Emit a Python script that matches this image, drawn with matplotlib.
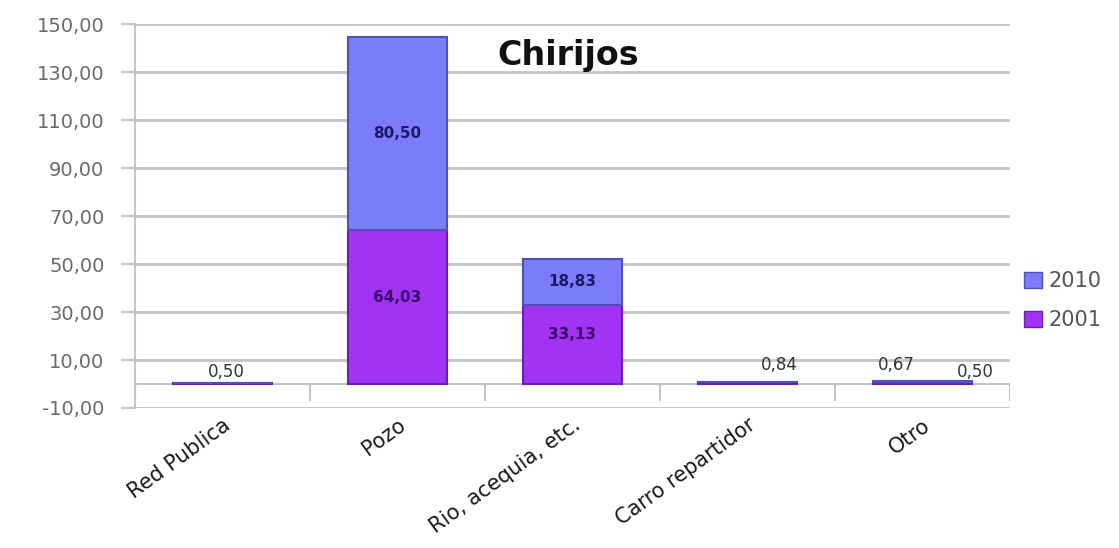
import numpy as np
import matplotlib.pyplot as plt
from matplotlib.patches import Patch

categories = ['Red Publica', 'Pozo', 'Rio, acequia, etc.', 'Carro repartidor', 'Otro']
v2001 = [0.50, 64.03, 33.13, 0.84, 0.67]
v2010 = [0.0, 80.50, 18.83, 0.0, 0.50]
yticks = [-10, 10, 30, 50, 70, 90, 110, 130, 150]

c2001 = '#A333F2'
c2010 = '#7B7CF7'
grid = '#C4C4C4'

fig = plt.figure(figsize=(11.19, 5.48), dpi=100)
ax = fig.add_axes([0.1206, 0.2555, 0.782, 0.7005])

x = np.arange(len(categories))
w = 0.57
ax.bar(x, v2001, w, color=c2001, edgecolor='#6A1FB0', linewidth=1.5, zorder=3)
ax.bar(x, v2010, w, bottom=v2001, color=c2010, edgecolor='#4F50B8', linewidth=1.5, zorder=3)

ax.set_xlim(-0.5, len(categories) - 0.5)
ax.set_ylim(-10, 150)
ax.set_yticks(yticks)
ax.set_yticklabels([f'{t:.2f}'.replace('.', ',') for t in yticks], color='#6A6A6A', fontsize=14)
ax.yaxis.grid(True, color=grid, linewidth=2, zorder=0)
ax.tick_params(axis='y', length=10, width=1.5, color=grid, pad=12)
ax.set_axisbelow(True)

for s in ['top', 'right', 'bottom']:
    ax.spines[s].set_visible(False)
ax.spines['left'].set_color(grid)
ax.spines['left'].set_linewidth(1.5)

# zero axis with category separators
ax.axhline(0, color=grid, linewidth=1.5, zorder=2)
ax.vlines(np.arange(len(categories) + 1) - 0.5, -7, 0, color=grid, linewidth=1.5, zorder=2)

ax.set_xticks(x)
ax.set_xticklabels(categories, rotation=36, ha='right', rotation_mode='anchor',
                   fontsize=15, color='#1A1A1A')
ax.tick_params(axis='x', length=0, pad=5)

def fmt(v):
    return f'{v:.2f}'.replace('.', ',')

# data labels
for i in range(len(categories)):
    a, b = v2001[i], v2010[i]
    if a > 5:
        ax.text(x[i], a / 2 + 4, fmt(a), ha='center', va='center', fontsize=11,
                fontweight='bold', color='#3A0A6A', zorder=4)
    if b > 5:
        ax.text(x[i], a + b / 2, fmt(b), ha='center', va='center', fontsize=11,
                fontweight='bold', color='#1A1A6A', zorder=4)
# small values above bars
small = dict(ha='center', va='center', fontsize=12, color='#333333')
ax.text(x[0] + 0.02, 5, fmt(v2001[0]), **small)
ax.text(x[3] + 0.18, 8, fmt(v2001[3]), **small)
ax.text(x[4] - 0.15, 8, fmt(v2001[4]), **small)
ax.text(x[4] + 0.3, 5, fmt(v2010[4]), **small)

ax.text(0.495, 0.919, 'Chirijos', transform=ax.transAxes, ha='center', va='center',
        fontsize=24, fontweight='bold', color='#111111')

handles = [Patch(facecolor=c2010, edgecolor='#4F50B8'), Patch(facecolor=c2001, edgecolor='#6A1FB0')]
leg = fig.legend(handles, ['2010', '2001'], loc='center left', bbox_to_anchor=(0.898, 0.451),
                 frameon=False, fontsize=15, handlelength=0.9, handleheight=0.8,
                 handletextpad=0.3, labelspacing=0.9)
for t in leg.get_texts():
    t.set_color('#555555')

fig.savefig('out.png', dpi=100)
